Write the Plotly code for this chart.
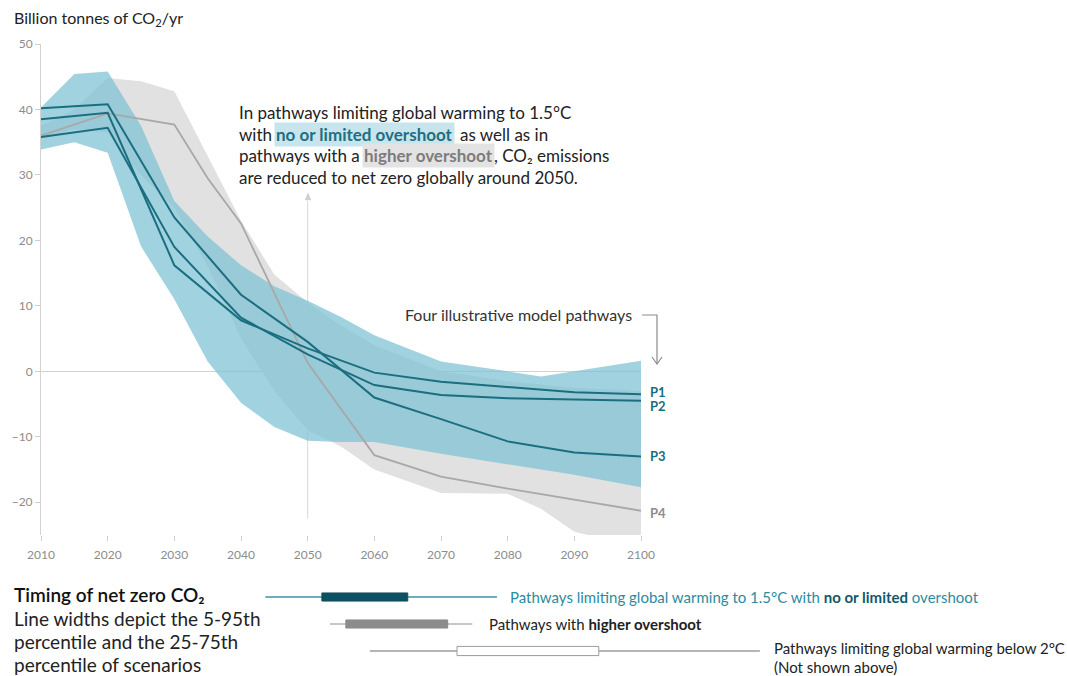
import plotly.graph_objects as go

# ---------------- data ----------------
# Illustrative model pathways (billion tonnes CO2 per year)
YEARS_PATH = [2010, 2020, 2030, 2040, 2050, 2060, 2070, 2080, 2090, 2100]
P1 = [38.5, 39.5, 16.2, 7.8, 3.5, -0.2, -1.6, -2.4, -3.2, -3.5]
P2 = [35.8, 37.2, 19.0, 8.2, 2.6, -2.1, -3.6, -4.1, -4.3, -4.5]
P3 = [40.2, 40.8, 23.5, 11.7, 4.5, -4.0, -7.3, -10.7, -12.4, -13.0]
YEARS_P4 = [2010, 2020, 2030, 2035, 2040, 2050, 2060, 2070, 2080, 2090, 2100]
P4 = [36.0, 39.4, 37.7, 29.5, 22.6, 1.3, -12.8, -16.1, -17.9, -19.6, -21.3]

# Scenario ranges
YEARS_BAND = [2010, 2015, 2020, 2025, 2030, 2035, 2040, 2045, 2050, 2055,
              2060, 2070, 2080, 2085, 2090, 2100]
LOW_OS_UPPER = [40.3, 45.4, 45.8, 37.5, 26.0, 20.6, 16.2, 13.0, 10.8, 8.3,
                5.5, 1.5, 0.0, -0.8, 0.0, 1.6]
LOW_OS_LOWER = [33.9, 35.0, 33.4, 19.1, 11.0, 1.5, -4.8, -8.5, -10.6, -10.8,
                -10.8, -12.6, -14.2, -15.0, -15.8, -17.7]
HIGH_OS_UPPER = [37.5, 40.0, 44.8, 44.3, 42.8, 32.8, 23.0, 14.8, 10.5, 7.0,
                 4.0, 0.0, -1.5, -2.0, -2.5, -3.0]
HIGH_OS_LOWER = [35.5, 37.0, 36.5, 30.0, 25.0, 16.0, 5.0, -3.0, -9.0, -11.5,
                 -15.0, -18.6, -18.7, -21.0, -24.5, -27.0]

# Timing of net zero CO2 (percentiles, year)
NZ_GROUPS = ["1.5°C no or limited overshoot", "higher overshoot", "below 2°C"]
NZ_P5 = [2043.7, 2053.4, 2059.4]
NZ_P25 = [2052.2, 2055.8, 2072.5]
NZ_P75 = [2065.1, 2071.1, 2093.8]
NZ_P95 = [2078.5, 2074.8, 2118.0]
NZ_ROW = [2, 1, 0]

Y_TICKS = [50, 40, 30, 20, 10, 0, -10, -20]
X_TICKS = [2010, 2020, 2030, 2040, 2050, 2060, 2070, 2080, 2090, 2100]

# ---------------- geometry helpers ----------------
W, H = 1067, 676
ML, MR, MT, MB = 41, 27, 44, 0
PW, PH = W - ML - MR, H - MT - MB


def px(x):
    return (x - ML) / PW


def py(y):
    return (H - MB - y) / PH


FONT = "Lato"
TEAL_FILL = "rgba(125,193,211,0.72)"
GREY_FILL = "rgb(225,225,225)"
TEAL_LINE = "#1b6e80"
GREY_LINE = "#a8a8a8"

fig = go.Figure()


def band(years, upper, lower, color):
    return go.Scatter(
        x=list(years) + list(years)[::-1],
        y=list(upper) + list(lower)[::-1],
        fill="toself", fillcolor=color, line=dict(width=0),
        mode="lines", hoverinfo="skip", showlegend=False,
    )


fig.add_trace(band(YEARS_BAND, HIGH_OS_UPPER, HIGH_OS_LOWER, GREY_FILL))
fig.add_trace(band(YEARS_BAND, LOW_OS_UPPER, LOW_OS_LOWER, TEAL_FILL))

fig.add_trace(go.Scatter(x=YEARS_P4, y=P4, mode="lines",
                         line=dict(color=GREY_LINE, width=1.8), showlegend=False))
for series in (P1, P2, P3):
    fig.add_trace(go.Scatter(x=YEARS_PATH, y=series, mode="lines",
                             line=dict(color=TEAL_LINE, width=2), showlegend=False))

# ---------------- net-zero timing boxes ----------------
row_style = [
    dict(whisker="#3a93a8", fill="#0e4f60", edge="#0e4f60", half=0.15),
    dict(whisker="#b4b4b4", fill="#8c8c8c", edge="#8c8c8c", half=0.15),
    dict(whisker="#9c9c9c", fill="#ffffff", edge="#9c9c9c", half=0.17),
]
for i, st in enumerate(row_style):
    r = NZ_ROW[i]
    fig.add_trace(go.Scatter(x=[NZ_P5[i], NZ_P95[i]], y=[r, r], mode="lines",
                             line=dict(color=st["whisker"], width=1.5),
                             xaxis="x2", yaxis="y2", showlegend=False))
    h = st["half"]
    fig.add_trace(go.Scatter(
        x=[NZ_P25[i], NZ_P75[i], NZ_P75[i], NZ_P25[i], NZ_P25[i]],
        y=[r - h, r - h, r + h, r + h, r - h],
        mode="lines", fill="toself", fillcolor=st["fill"],
        line=dict(color=st["edge"], width=1),
        xaxis="x2", yaxis="y2", showlegend=False))

# ---------------- axes ----------------
main_bottom = py(535)
fig.update_layout(
    width=W, height=H, autosize=False,
    margin=dict(l=ML, r=MR, t=MT, b=MB),
    paper_bgcolor="white", plot_bgcolor="white",
    font=dict(family=FONT, color="#222"),
    xaxis=dict(domain=[0, px(641)], range=[2010, 2100], tickvals=X_TICKS,
               showgrid=False, zeroline=False, showline=False,
               ticks="outside", ticklen=5, tickcolor="#cfcfcf",
               tickfont=dict(size=12, color="#8c8c8c"), ticklabelstandoff=4,
               anchor="y", fixedrange=True),
    yaxis=dict(domain=[main_bottom, 1], range=[-25, 50], tickvals=Y_TICKS,
               showgrid=False, zeroline=True, zerolinecolor="#d2d2d2",
               zerolinewidth=1, showline=True, linecolor="#d2d2d2",
               ticks="outside", ticklen=5, tickcolor="#cfcfcf",
               tickfont=dict(size=12, color="#8c8c8c"), anchor="x",
               fixedrange=True),
    xaxis2=dict(domain=[0, 1], range=[2010, 2010 + PW / 6.656], visible=False,
                showticklabels=False, anchor="y2"),
    yaxis2=dict(domain=[py(668), py(580)], range=[-0.63, 2.63], visible=False,
                showticklabels=False, anchor="x2"),
)

# vertical guide at 2050 with a small arrowhead on top
fig.add_shape(type="line", xref="x", yref="y", x0=2050, x1=2050, y0=-22.5, y1=26.0,
              line=dict(color="#d8d8d8", width=1), layer="below")
fig.add_shape(type="path", xref="paper", yref="paper",
              path=(f"M {px(305)} {py(200)} L {px(308)} {py(193)} "
                    f"L {px(311)} {py(200)} Z"),
              fillcolor="#d0d0d0", line=dict(color="#d0d0d0", width=0.5))

ann = []


def text(x, y, s, size, color="#222", anchor="left", bg=None, yanchor="middle"):
    d = dict(xref="paper", yref="paper", x=px(x), y=py(y), text=s, showarrow=False,
             xanchor=anchor, yanchor=yanchor, font=dict(size=size, color=color, family=FONT))
    if bg:
        d.update(bgcolor=bg, borderpad=1)
    ann.append(d)


text(12, 18, "Billion tonnes of CO<sub>2</sub>/yr", 16)

# main message
text(237, 112, "In pathways limiting global warming to 1.5°C", 17)
text(237, 134, "with", 17)
text(274, 134, "<b>no or limited overshoot</b>", 17, color="#1d6f82", bg="#c8e5ed")
text(458, 134, "as well as in", 17)
text(237, 156, "pathways with a", 17)
text(362, 156, "<b>higher overshoot</b>", 17, color="#7c7c7c", bg="#e3e3e3")
text(492, 156, ", CO₂ emissions", 17)
text(237, 177, "are reduced to net zero globally around 2050.", 17)

text(634, 315, "Four illustrative model pathways", 16, color="#333", anchor="right")
fig.add_shape(type="path", xref="paper", yref="paper",
              path=f"M {px(642)} {py(315)} L {px(657)} {py(315)} L {px(657)} {py(364)}",
              line=dict(color="#8c8c8c", width=1.2))
fig.add_shape(type="path", xref="paper", yref="paper",
              path=f"M {px(652)} {py(357)} L {px(657)} {py(364)} L {px(662)} {py(357)}",
              line=dict(color="#8c8c8c", width=1.2))

for lab, yy, col in (("P1", 392, TEAL_LINE), ("P2", 406, TEAL_LINE),
                     ("P3", 456, TEAL_LINE), ("P4", 513, "#8c8c8c")):
    text(648, yy, f"<b>{lab}</b>", 13, color=col)

# net-zero timing key
ann.append(dict(xref="paper", yref="paper", x=px(12), y=py(594), text="Timing of net zero CO₂",
                showarrow=False, xanchor="left", yanchor="middle",
                font=dict(size=19, color="#111", family=FONT, weight=600)))
text(12, 618, "Line widths depict the 5-95th", 19)
text(12, 641, "percentile and the 25-75th", 19)
text(12, 664, "percentile of scenarios", 19)

text(508, 597, "Pathways limiting global warming to 1.5°C with "
     "<span style='color:#12586a'><b>no or limited</b></span> overshoot", 15, color="#2b8ba1")
text(487, 624, "Pathways with <b>higher overshoot</b>", 15, color="#222")
text(772, 648, "Pathways limiting global warming below 2°C", 15, color="#222")
text(772, 667, "(Not shown above)", 15, color="#222")

fig.update_layout(annotations=ann)
fig.write_html("out.html")
